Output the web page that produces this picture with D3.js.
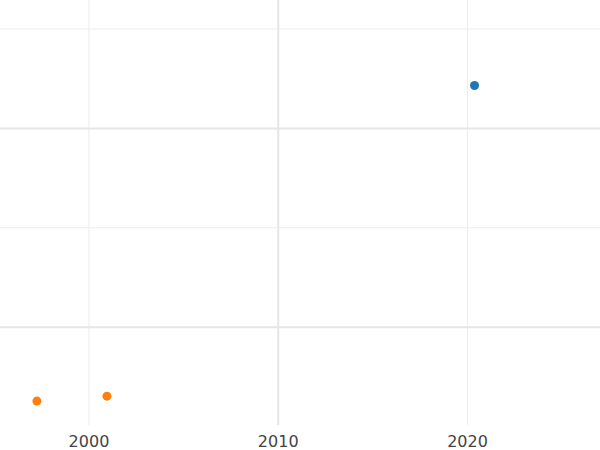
<!DOCTYPE html>
<html><head><meta charset="utf-8">
<script src="https://cdn.jsdelivr.net/npm/d3@7"></script>
<style>body{margin:0;background:#fff}</style>
</head><body>
<svg id="c" width="600" height="450"></svg>
<script>
const xTicksMajor = [2010];
const xTicksMinor = [2000, 2020];
const xLabels = [2000, 2010, 2020];
const yTicksMajor = [1, 2];
const yTicksMinor = [1.5, 2.5];
const blueX = [2020.37], blueY = [2.216];
const orangeX = [1997.25, 2000.95], orangeY = [0.628, 0.653];

const W = 600, H = 450;
const x = d3.scaleLinear().domain([1995.3, 2027.0]).range([0, W]);
const y = d3.scaleLinear().domain([0.382, 2.646]).range([H, 0]);
const svg = d3.select('#c');

svg.selectAll('.vmin').data(xTicksMinor).enter().append('line')
  .attr('x1', d => x(d)).attr('x2', d => x(d)).attr('y1', 0).attr('y2', 425)
  .attr('stroke', '#ececec').attr('stroke-width', 1);
svg.selectAll('.vmaj').data(xTicksMajor).enter().append('line')
  .attr('x1', d => x(d)).attr('x2', d => x(d)).attr('y1', 0).attr('y2', 425)
  .attr('stroke', '#e6e6e6').attr('stroke-width', 2);
svg.selectAll('.hmin').data(yTicksMinor).enter().append('line')
  .attr('y1', d => y(d)).attr('y2', d => y(d)).attr('x1', 0).attr('x2', W)
  .attr('stroke', '#ececec').attr('stroke-width', 1);
svg.selectAll('.hmaj').data(yTicksMajor).enter().append('line')
  .attr('y1', d => y(d)).attr('y2', d => y(d)).attr('x1', 0).attr('x2', W)
  .attr('stroke', '#e6e6e6').attr('stroke-width', 2);

svg.selectAll('.lab').data(xLabels).enter().append('text')
  .attr('x', d => x(d)).attr('y', 447).attr('text-anchor', 'middle')
  .attr('font-family', 'DejaVu Sans').attr('font-size', 16).attr('fill', '#444')
  .text(d => d);

svg.selectAll('.b').data(blueX).enter().append('circle')
  .attr('cx', d => x(d)).attr('cy', (d, i) => y(blueY[i])).attr('r', 4.5).attr('fill', '#1f77b4');
svg.selectAll('.o').data(orangeX).enter().append('circle')
  .attr('cx', d => x(d)).attr('cy', (d, i) => y(orangeY[i])).attr('r', 4.5).attr('fill', '#ff7f0e');
</script>
</body></html>
